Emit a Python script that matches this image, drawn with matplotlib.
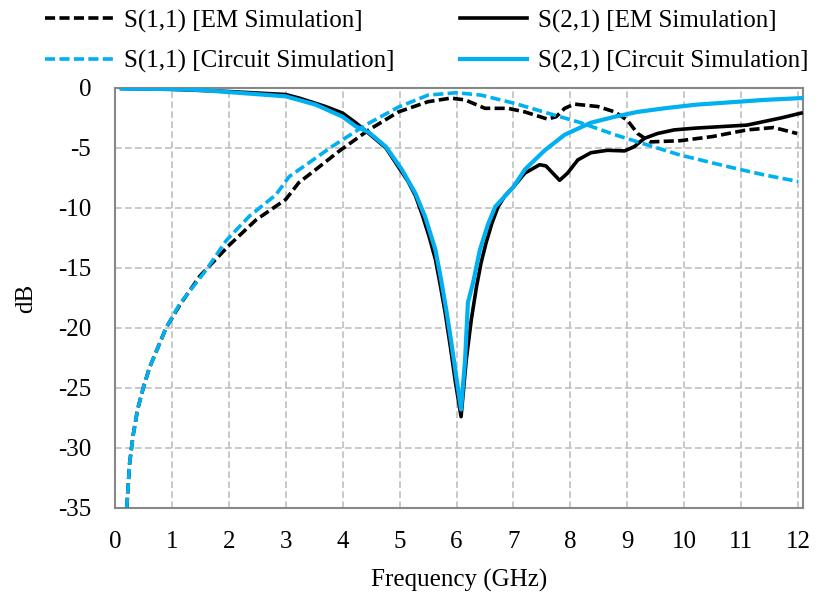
import matplotlib.pyplot as plt

plt.rcParams['font.family'] = ['Liberation Serif', 'DejaVu Serif']
plt.rcParams['font.size'] = 18
plt.rcParams['axes.unicode_minus'] = False

# S(1,1) EM simulation
s11_em_f = [0.21, 0.26, 0.32, 0.4, 0.5, 0.61, 0.76, 0.9, 1.14, 1.49, 2.01, 2.48, 3.0, 3.1,
            3.23, 3.53, 3.93, 4.46, 4.98, 5.5, 5.9, 6.15, 6.5, 6.9, 7.2, 7.6, 7.75, 7.9,
            8.07, 8.48, 8.78, 9.0, 9.18, 9.4, 9.93, 10.5, 11.1, 11.57, 11.98]
s11_em_db = [-35, -31.3, -29, -26.8, -25, -23.3, -21.6, -20, -18.1, -15.7, -13.1, -11.0, -9.3, -8.7,
             -7.9, -6.8, -5.3, -3.5, -2.0, -1.15, -0.85, -1.0, -1.7, -1.7, -2.0, -2.6, -2.4, -1.7,
             -1.35, -1.55, -2.0, -2.7, -3.8, -4.5, -4.4, -4.05, -3.5, -3.3, -3.8]

# S(2,1) EM simulation
s21_em_f = [0.12, 1.0, 2.0, 3.0, 3.24, 3.7, 4.0, 4.23, 4.46, 4.76, 5.01, 5.15, 5.28, 5.4, 5.52,
            5.63, 5.71, 5.8, 5.89, 5.98, 6.08, 6.17, 6.26, 6.35, 6.43, 6.52, 6.62, 6.73, 6.85,
            7.0, 7.2, 7.46, 7.57, 7.81, 7.95, 8.13, 8.36, 8.65, 8.95, 9.12, 9.3, 9.53, 9.82,
            10.2, 11.1, 11.4, 11.7, 12.05]
s21_em_db = [-0.05, -0.12, -0.3, -0.55, -0.85, -1.55, -2.1, -2.9, -3.8, -5.0, -6.8, -7.8, -9.0,
             -10.6, -12.4, -14.3, -16.3, -18.7, -21.5, -24.5, -27.4, -22.7, -19.3, -16.6, -14.6,
             -12.9, -11.3, -9.9, -9.0, -8.25, -7.1, -6.4, -6.5, -7.7, -7.1, -6.0, -5.4, -5.2,
             -5.25, -4.9, -4.2, -3.8, -3.5, -3.35, -3.1, -2.8, -2.5, -2.1]

# S(1,1) circuit simulation
s11_ckt_f = [0.21, 0.26, 0.32, 0.4, 0.5, 0.61, 0.76, 0.9, 1.14, 1.37, 1.6, 1.96, 2.36, 2.83,
             3.06, 3.36, 3.81, 4.4, 4.98, 5.5, 6.0, 6.43, 7.03, 7.6, 8.18, 8.78, 9.35, 9.93,
             10.8, 11.4, 12.0]
s11_ckt_db = [-35, -31.3, -29, -26.8, -25, -23.3, -21.6, -20, -18, -16.6, -15.2, -12.7, -10.7, -8.9,
              -7.4, -6.4, -4.9, -3.1, -1.6, -0.6, -0.4, -0.6, -1.3, -2.1, -2.9, -3.9, -4.75, -5.6,
              -6.6, -7.25, -7.8]

# S(2,1) circuit simulation
s21_ckt_f = [0.12, 1.0, 1.49, 2.0, 3.0, 3.53, 4.0, 4.23, 4.46, 4.76, 5.04, 5.28, 5.45, 5.63,
             5.73, 5.82, 5.91, 6.0, 6.08, 6.15, 6.2, 6.29, 6.41, 6.55, 6.68, 7.0, 7.2, 7.55,
             7.9, 8.36, 8.78, 9.18, 9.65, 10.2, 10.8, 11.4, 12.05]
s21_ckt_db = [-0.05, -0.1, -0.17, -0.35, -0.7, -1.4, -2.4, -3.2, -3.7, -4.9, -6.8, -8.8, -10.75,
              -13.5, -16, -18.5, -21.25, -24.2, -26.8, -22.7, -17.9, -16.25, -13.5, -11.4, -9.9,
              -8.25, -6.8, -5.2, -3.9, -2.9, -2.4, -2.0, -1.7, -1.4, -1.2, -1.0, -0.85]

blue = '#00b0f0'
dash = (0, (2.8, 1.2))

fig = plt.figure(figsize=(8.2, 5.94), dpi=100)
ax = fig.add_axes([0.140, 0.145, 0.839, 0.707])

ax.plot(s11_em_f, s11_em_db, color='black', lw=2.6, ls=dash, label='S(1,1) [EM Simulation]', zorder=3)
ax.plot(s21_em_f, s21_em_db, color='black', lw=2.6, label='S(2,1) [EM Simulation]', zorder=3)
ax.plot(s11_ckt_f, s11_ckt_db, color=blue, lw=2.6, ls=dash, label='S(1,1) [Circuit Simulation]', zorder=4)
ax.plot(s21_ckt_f, s21_ckt_db, color=blue, lw=3.0, label='S(2,1) [Circuit Simulation]', zorder=4)

ax.set_xlim(0, 12.08)
ax.set_ylim(-35, 0)
ax.set_xticks(range(0, 13))
ax.set_yticks(range(-35, 1, 5))
ax.grid(True, color='#bfbfbf', ls=(0, (4, 2)), lw=1.2)
ax.tick_params(length=0, pad=17)
for sp in ax.spines.values():
    sp.set_color('#888888')
    sp.set_linewidth(1.5)

ax.set_xlabel('Frequency (GHz)', labelpad=11)
ax.set_ylabel('dB', labelpad=15)

handles, labels = ax.get_legend_handles_labels()
order = [0, 2, 1, 3]
fig.legend([handles[i] for i in order], [labels[i] for i in order], ncol=2, frameon=False,
           loc='upper left', bbox_to_anchor=(0.04, 1.005), borderpad=0,
           handlelength=2.7, handletextpad=0.45, columnspacing=2.6, labelspacing=0.7)

fig.savefig('out.png', dpi=100)
